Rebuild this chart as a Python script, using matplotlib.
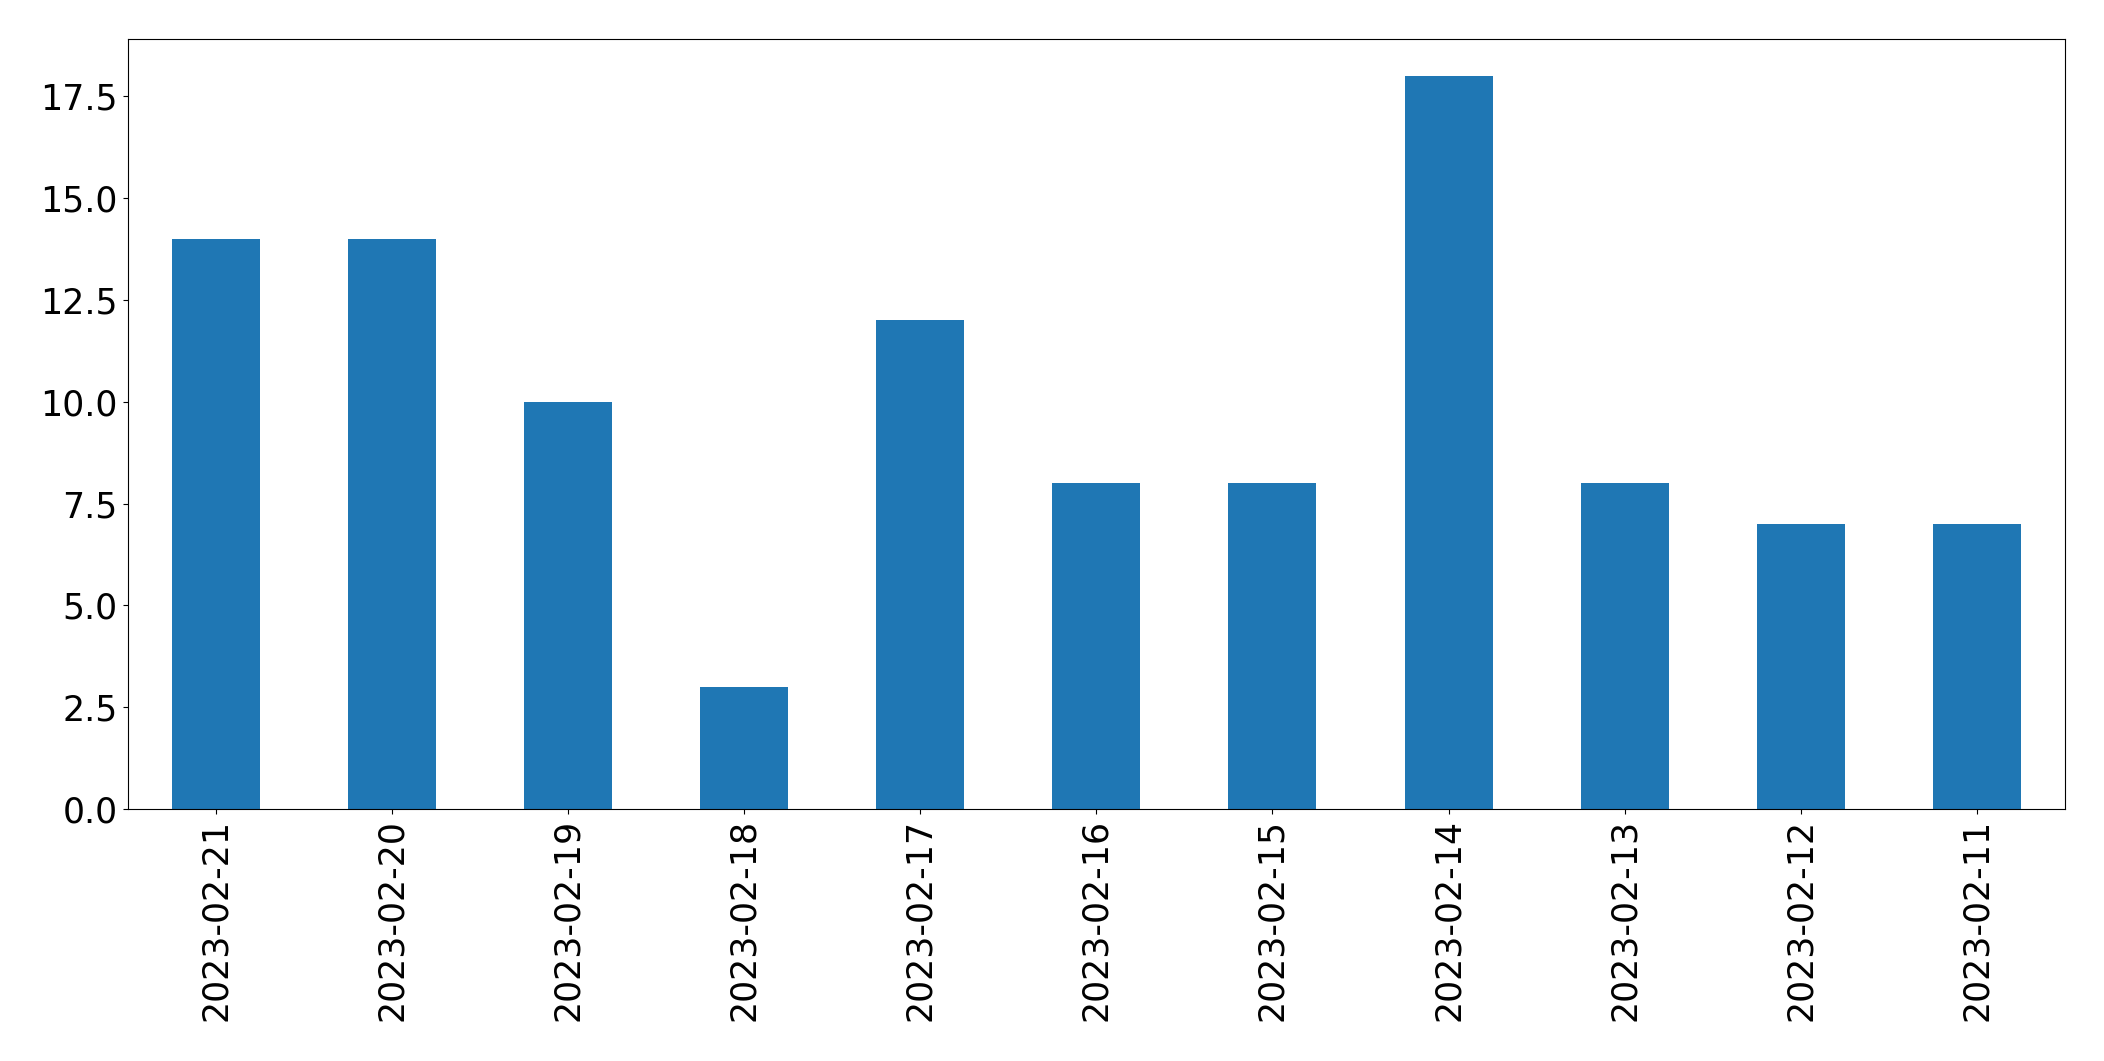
import matplotlib
matplotlib.use("Agg")
import matplotlib.pyplot as plt

dates = ["2023-02-21", "2023-02-20", "2023-02-19", "2023-02-18", "2023-02-17",
         "2023-02-16", "2023-02-15", "2023-02-14", "2023-02-13", "2023-02-12", "2023-02-11"]
counts = [14, 14, 10, 3, 12, 8, 8, 18, 8, 7, 7]

fig = plt.figure(figsize=(21.04, 10.61), dpi=100)
ax = fig.add_axes([0.0606, 0.2375, 0.9209, 0.7255])
x = list(range(len(dates)))
ax.bar(x, counts, width=0.5, color="#1f77b4")
ax.set_xlim(-0.5, len(dates) - 0.5)
ax.set_ylim(0, max(counts) * 1.05)
ax.set_xticks(x)
ax.set_xticklabels(dates, rotation=90)
ax.tick_params(labelsize=25)
fig.savefig("out.png", dpi=100)
